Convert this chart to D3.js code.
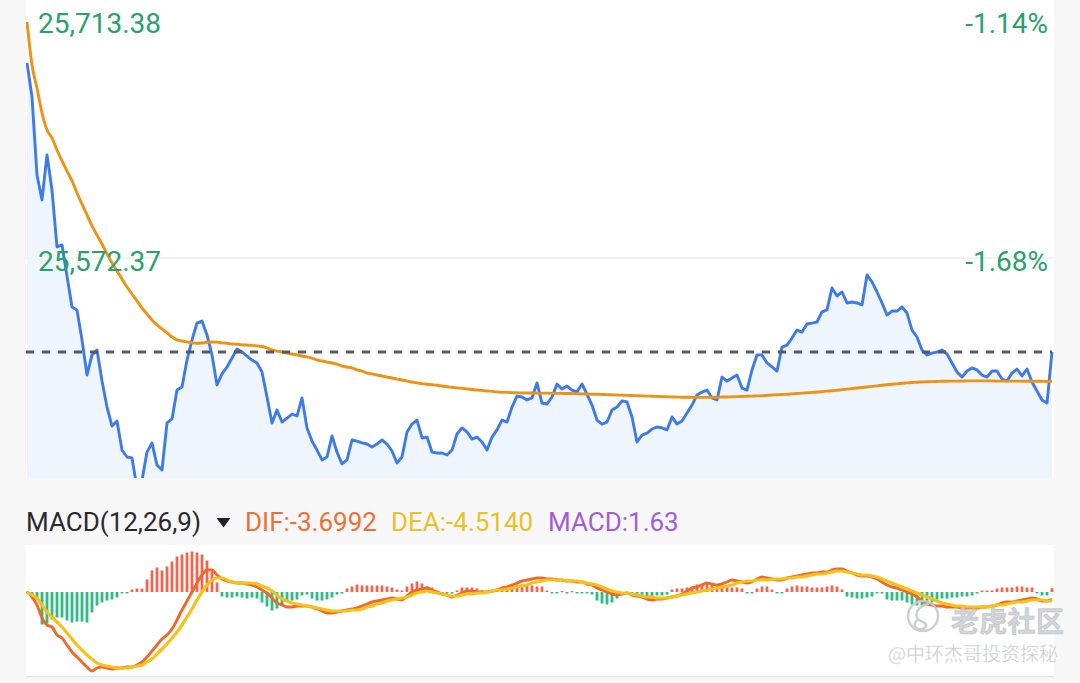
<!DOCTYPE html>
<html><head><meta charset="utf-8">
<script src="https://cdn.jsdelivr.net/npm/d3@7"></script>
<style>html,body{margin:0;padding:0;background:#f7f7f8;overflow:hidden} svg{display:block}</style>
</head><body>
<svg id="c" width="1080" height="683"></svg>
<script>
// ---------------- data ----------------
const price = [
25679.0,25660.4,25617.7,25604.1,25628.7,25609.5,25578.4,25579.5,25562.5,25545.6,
25544.0,25527.6,25508.4,25519.4,25522.1,25505.1,25490.9,25480.5,25483.3,25467.4,
25463.6,25463.1,25446.7,25451.0,25466.3,25471.3,25459.2,25456.5,25482.2,25484.4,
25500.2,25501.9,25516.6,25527.6,25536.8,25537.9,25530.3,25519.4,25503.0,25509.0,
25512.8,25517.7,25522.6,25521.0,25518.8,25516.6,25515.0,25510.1,25496.4,25482.2,
25489.3,25482.7,25484.9,25487.1,25486.0,25495.9,25479.5,25472.3,25467.4,25462.0,
25463.6,25475.1,25466.3,25459.8,25462.0,25472.9,25472.3,25471.3,25470.7,25469.1,
25470.7,25472.9,25470.7,25466.9,25460.3,25463.6,25477.3,25481.6,25483.8,25474.0,
25474.5,25466.3,25465.8,25465.8,25464.7,25467.4,25476.2,25479.5,25477.3,25473.4,
25474.5,25471.8,25467.4,25474.5,25478.4,25483.8,25482.7,25490.9,25496.9,25496.4,
25494.8,25495.9,25504.1,25493.1,25492.6,25496.4,25503.5,25500.8,25502.4,25500.2,
25499.1,25503.5,25498.0,25492.0,25483.8,25481.6,25482.7,25489.3,25490.9,25494.2,
25493.7,25485.5,25471.8,25475.6,25476.7,25478.9,25480.0,25479.5,25478.4,25485.5,
25481.6,25483.3,25487.7,25492.0,25497.5,25499.1,25500.2,25495.9,25494.8,25507.3,
25505.1,25506.8,25508.4,25501.3,25500.2,25511.2,25519.4,25519.4,25515.0,25512.8,
25510.6,25523.7,25524.8,25528.6,25533.0,25531.9,25536.3,25536.8,25537.4,25542.9,
25544.0,25556.0,25551.6,25553.8,25547.8,25548.3,25547.8,25546.7,25563.1,25559.3,
25553.8,25547.8,25541.2,25543.4,25543.4,25545.6,25542.3,25533.0,25529.2,25522.1,
25519.4,25520.4,25521.0,25522.1,25519.9,25515.0,25510.1,25507.3,25510.6,25512.3,
25511.2,25508.4,25507.3,25510.6,25510.6,25506.2,25505.1,25509.5,25511.7,25507.9,
25511.7,25504.6,25499.7,25494.8,25493.1,25521.0];

const avgPrice = [
25701.4,25677.9,25665.3,25651.6,25642.3,25638.0,25631.4,25625.4,25619.9,25614.5,
25607.9,25601.9,25595.9,25589.9,25584.9,25580.0,25574.6,25569.6,25565.3,25560.9,
25556.5,25552.7,25548.9,25545.0,25541.8,25538.5,25535.8,25533.6,25531.4,25529.2,
25527.6,25527.0,25526.5,25526.0,25525.8,25525.9,25526.3,25526.5,25526.4,25526.0,
25525.8,25525.4,25525.2,25524.9,25524.8,25524.6,25524.3,25524.0,25523.2,25522.1,
25521.5,25521.0,25520.4,25519.9,25519.4,25518.8,25518.3,25517.7,25516.6,25516.1,
25515.5,25515.0,25514.4,25513.3,25512.8,25512.3,25511.2,25510.6,25509.5,25509.0,
25508.4,25507.9,25507.3,25506.8,25506.2,25505.7,25505.1,25504.6,25504.1,25503.7,
25503.4,25503.1,25502.8,25502.4,25502.0,25501.7,25501.4,25501.1,25500.8,25500.5,
25500.2,25500.0,25499.7,25499.5,25499.2,25499.0,25498.9,25498.8,25498.7,25498.6,
25498.6,25498.6,25498.5,25498.5,25498.5,25498.4,25498.4,25498.4,25498.3,25498.3,
25498.2,25498.1,25498.0,25497.9,25497.9,25497.8,25497.7,25497.6,25497.5,25497.4,
25497.3,25497.2,25497.1,25497.0,25496.9,25496.8,25496.7,25496.6,25496.5,25496.4,
25496.4,25496.3,25496.3,25496.2,25496.2,25496.2,25496.2,25496.3,25496.3,25496.4,
25496.4,25496.5,25496.6,25496.7,25496.8,25496.9,25497.0,25497.1,25497.3,25497.5,
25497.6,25497.8,25497.9,25498.1,25498.3,25498.5,25498.7,25498.9,25499.1,25499.3,
25499.6,25499.8,25500.1,25500.4,25500.7,25501.0,25501.3,25501.6,25501.9,25502.2,
25502.5,25502.8,25503.1,25503.4,25503.6,25503.9,25504.1,25504.3,25504.5,25504.6,
25504.7,25504.8,25504.9,25505.0,25505.0,25505.1,25505.1,25505.1,25505.2,25505.2,
25505.2,25505.2,25505.2,25505.2,25505.1,25505.1,25505.1,25505.1,25505.1,25505.0,
25505.0,25505.0,25505.0,25505.0,25504.9,25504.9];

const dif = [
0,-2.5,-6.5,-13,-16.5,-17.5,-21.5,-23,-26.5,-30,
-32.5,-35,-37.5,-39.5,-38,-37.5,-38,-38.5,-38,-38,
-37.5,-37.5,-36.5,-35,-32.5,-29.5,-26.5,-23.5,-21.5,-18.5,
-14,-9,-4.5,0,4.5,8.5,11,11,8.5,6.5,
5.5,5,4.5,4.5,4,3.5,2.5,1,-0.5,-3,
-5.5,-6.5,-7.5,-7.5,-7,-7,-7,-7.5,-8.5,-9.5,
-10.5,-10.5,-10,-9.5,-9,-8.5,-8,-7,-6,-5,
-4.5,-4,-3.5,-3,-3.5,-4,-2,0,1,1.5,
2,1,0,-1,-1.5,-2.5,-1.5,-0.5,0.5,0.5,
0,0,0,0.5,1,2,2.5,3.5,4.5,5.5,
6,6.5,7,7,6.5,6.5,6,6,5.5,5.5,
5,5,4,3.5,2,1,0,-1,-1.5,-1,
-0.5,-1.5,-2,-2.5,-3.5,-4,-3.5,-3.5,-3,-2.5,
-2,-1,0.5,2,2.5,3.5,4.5,4,3.5,4,
5,6,5.5,5,4.5,5,6.5,7.5,7,6.5,
6,6,7,7.5,8,8.5,9,9.5,9.5,10,
10,11,11.5,11.5,10.5,9.5,8.5,8,8,7.5,
6.5,5,3.5,2.5,2,1,0,-1,-2.5,-4.5,
-6,-6.5,-7,-7,-7.5,-7.5,-7.5,-8,-8,-8,
-8,-7.5,-7.5,-7,-6.5,-5.5,-5,-5,-4.5,-4,
-3.5,-3,-3.5,-4.5,-4.5,-3.6992];

const dea = [
0,-1.5,-3,-6.5,-10,-12.5,-15,-17.5,-20.5,-23.5,
-26.5,-29,-31.5,-33.5,-35.5,-36.5,-37,-37.5,-38,-38,
-38,-37.5,-37,-36.5,-35,-33.5,-31,-28.5,-26,-23,
-20,-16.5,-12.5,-8.5,-4,0,3.5,6,7,7,
6,5,4.5,4.5,4.5,4.5,4,3,2,0.5,
-1.5,-3.5,-4.5,-5.5,-6,-6.5,-7,-7.5,-8,-8.5,
-9,-9.5,-9.5,-9.5,-9.5,-9,-9,-8.5,-7.5,-7,
-6,-5.5,-4.5,-4,-3.5,-3,-2.5,-1.5,-0.5,0,
0.5,0,-0.5,-1,-1.5,-2,-2,-1.5,-1,-1,
-0.5,-0.5,0,0.5,1,1,1.5,2,2.5,3,
3.5,4.5,5,5.5,6,6,6,6,5.5,5.5,
5.5,5,4.5,4,3.5,2.5,1.5,0.5,0,-0.5,
-0.5,-1,-1.5,-2,-2.5,-2.5,-3,-3,-3,-2.5,
-2,-1.5,-1,-0.5,0,0.5,1,1.5,2,2.5,
3,3.5,4.5,5,5.5,5.5,6,6,6,6.5,
6.5,6.5,7,7,7.5,7.5,8,8.5,9,9,
9.5,10,10.5,10.5,10,9.5,9,8.5,8.5,8,
7.5,6.5,5.5,4.5,3.5,2.5,1.5,0.5,-0.5,-1.5,
-2.5,-3.5,-4.5,-5.5,-6,-6.5,-7,-7,-7.5,-7.5,
-7.5,-7.5,-7.5,-7,-6.5,-6.5,-6,-5.5,-5,-5,
-4.5,-4,-4,-4,-4.5,-4.514];

const macdHist = [
0,-1.5,-3.5,-16,-15.5,-13.5,-12.5,-12.5,-14,-15,
-14.5,-14.5,-15,-10,-6.5,-5,-4,-3.5,-2.5,-0.5,
-0.5,1,1.5,1.5,6,10.5,12,10.5,12.5,15,
17.5,18.5,19.5,20,19.5,18.5,15.5,10,4.5,-2,
-2.5,-2.5,-2,-2.5,-3,-2.5,-3,-5,-7,-9,
-8,-6,-4,-4,-3.5,-1.5,-1,-3,-4,-4,
-3.5,-2.5,-1,-0.5,1.5,2.5,3.5,3,3,3,
3,3,2.5,2,1,0.5,2.5,4,5,4,
2.5,2,0.5,-0.5,-0.5,-0.5,0.5,2,2,2,
1.5,0.5,0.5,0.5,0.5,1,2.5,3,3.5,3.5,
3,3,2.5,2.5,0.5,-0.5,-0.5,0.2,-0.5,0.2,
-0.5,-0.5,-0.5,-1,-4,-5.5,-6,-5,-3,-0.5,
-0.5,-0.5,-1.5,-2,-2,-2,-1.5,-1.5,-1,1,
1.5,1.5,2,2.5,3.5,4,4.5,4,3.5,2,
2,2,2,1.5,-0.5,-0.5,1.5,2.5,2.5,1,
-0.5,-0.5,1.5,2.5,3,2.5,2.5,2,2,2,
2.5,3,2.5,1,-2,-2.5,-3,-3,-2.5,-2,
-0.5,-0.5,-3.5,-4,-4,-4,-5,-6,-6.5,-6.5,
-6,-5,-3.5,-3,-3,-2.5,-2.5,-2,-2,-1.5,
-0.5,0.5,0.5,0.5,1.5,2,2,2,2.5,2.5,
2,2,-0.5,-1.5,-1.5,1.63];

const priceTicks = [25713.38, 25572.37];
const pctTicks = ["-1.14%", "-1.68%"];
const macdTitle = "MACD(12,26,9)";
const macdLegendNames = ["DIF", "DEA", "MACD"];
const macdLegendValues = ["-3.6992", "-4.5140", "1.63"];
const watermark = ["老虎社区", "@中环杰哥投资探秘"];

// ---------------- drawing ----------------
const svg = d3.select("#c");
const L = 26, R = 1054;
const mainTop = 0, mainBot = 478;
const mTop = 545, mBot = 676;
const font = "Roboto, 'Noto Sans', sans-serif";

svg.append("rect").attr("width", 1080).attr("height", 683).attr("fill", "#f7f7f8");
svg.append("rect").attr("x", L).attr("y", mainTop).attr("width", R - L).attr("height", mainBot - mainTop).attr("fill", "#ffffff");
svg.append("rect").attr("x", L).attr("y", mTop).attr("width", R - L).attr("height", mBot - mTop).attr("fill", "#ffffff");
svg.append("line").attr("x1", L).attr("x2", R).attr("y1", mBot + 0.5).attr("y2", mBot + 0.5).attr("stroke", "#e6e6e8").attr("stroke-width", 1.5);

const defs = svg.append("defs");
defs.append("clipPath").attr("id", "clipMain").append("rect").attr("x", L).attr("y", mainTop).attr("width", R - L).attr("height", mainBot - mainTop);
defs.append("clipPath").attr("id", "clipMacd").append("rect").attr("x", L).attr("y", mTop).attr("width", R - L).attr("height", mBot - mTop);

const x = d3.scaleLinear().domain([0, price.length - 1]).range([27, 1052]);
const y = d3.scaleLinear().domain([priceTicks[1], priceTicks[0]]).range([258, 0]);
const ym = d3.scaleLinear().domain([-42, 23.5]).range([mBot, mTop]);

// grid
svg.append("line").attr("x1", L).attr("x2", R).attr("y1", y(priceTicks[1])).attr("y2", y(priceTicks[1]))
  .attr("stroke", "#e4e4e6").attr("stroke-width", 1);

const gMain = svg.append("g").attr("clip-path", "url(#clipMain)");
gMain.append("path").datum(price)
  .attr("d", d3.area().x((d, i) => x(i)).y0(mainBot).y1(d => y(d)))
  .attr("fill", "#eff5fd");
gMain.append("path").datum(price)
  .attr("d", d3.line().x((d, i) => x(i)).y(d => y(d)))
  .attr("fill", "none").attr("stroke", "#3f7be6").attr("stroke-width", 2.9).attr("stroke-linejoin", "round");
gMain.append("path").datum(avgPrice)
  .attr("d", d3.line().curve(d3.curveMonotoneX).x((d, i) => x(i)).y(d => y(d)))
  .attr("fill", "none").attr("stroke", "#ee9217").attr("stroke-width", 2.9);
// last price dashed line
const last = price[price.length - 1];
gMain.append("line").attr("x1", L).attr("x2", 1052).attr("y1", y(last)).attr("y2", y(last))
  .attr("stroke", "#555a66").attr("stroke-width", 2.8).attr("stroke-dasharray", "8,8");

// price labels
const lblOffsets = [33, 13];
priceTicks.forEach((t, k) => {
  svg.append("text").attr("x", 38).attr("y", y(t) + lblOffsets[k])
    .attr("font-family", font).attr("font-size", 28).attr("fill", "#2aa06c")
    .text(d3.format(",.2f")(t));
  svg.append("text").attr("x", 1048).attr("y", y(t) + lblOffsets[k]).attr("text-anchor", "end")
    .attr("font-family", font).attr("font-size", 28).attr("fill", "#2aa06c")
    .text(pctTicks[k]);
});

// MACD header
const hy = 531;
svg.append("text").attr("x", 26).attr("y", hy).attr("font-family", font).attr("font-size", 26).attr("fill", "#2a2a2e").text(macdTitle);
svg.append("path").attr("d", "M216.5,518 L230.5,518 L223.5,527.5 Z").attr("fill", "#222226");
const legColors = ["#ea7035", "#e9c129", "#a35dd4"];
const legX = [245, 391, 548];
macdLegendNames.forEach((n, k) => {
  svg.append("text").attr("x", legX[k]).attr("y", hy).attr("font-family", font).attr("font-size", 26)
    .attr("fill", legColors[k]).text(n + ":" + macdLegendValues[k]);
});

// MACD panel
const gM = svg.append("g").attr("clip-path", "url(#clipMacd)");
const bw = 2.8;
gM.selectAll("rect.bar").data(macdHist).join("rect").attr("class", "bar")
  .attr("x", (d, i) => x(i) - bw / 2)
  .attr("width", bw)
  .attr("y", d => d >= 0 ? ym(d) - 0.5 : ym(0))
  .attr("height", d => Math.max(1.2, Math.abs(ym(d) - ym(0)) + 0.5))
  .attr("fill", d => d >= 0 ? "#ec6752" : "#2fbb83");
gM.append("path").datum(dif)
  .attr("d", d3.line().curve(d3.curveMonotoneX).x((d, i) => x(i)).y(d => ym(d)))
  .attr("fill", "none").attr("stroke", "#ee6a2b").attr("stroke-width", 2.9).attr("stroke-linejoin", "round");
gM.append("path").datum(dea)
  .attr("d", d3.line().curve(d3.curveMonotoneX).x((d, i) => x(i)).y(d => ym(d)))
  .attr("fill", "none").attr("stroke", "#f5c21a").attr("stroke-width", 3.2).attr("stroke-linejoin", "round");

// watermark
const wm = svg.append("g").attr("opacity", 0.9);
wm.append("circle").attr("cx", 923).attr("cy", 616).attr("r", 15).attr("fill", "none")
  .attr("stroke", "#c6c9cf").attr("stroke-width", 2.4);
wm.append("path").attr("d", "M928,604 C918,606 914,614 918,619 C921,623 927,621 926,626 C925,630 918,630 914,627 M918,619 C915,622 913,625 916,628")
  .attr("fill", "none").attr("stroke", "#c6c9cf").attr("stroke-width", 2.4).attr("stroke-linecap", "round");
wm.append("text").attr("x", 951).attr("y", 632).attr("font-family", "'Noto Sans CJK SC', sans-serif")
  .attr("font-size", 28).attr("font-weight", 700).attr("fill", "#cdd0d5").attr("stroke", "#b9bcc3").attr("stroke-width", 0.6)
  .attr("letter-spacing", 0.3).text(watermark[0]);
wm.append("text").attr("x", 1058).attr("y", 661).attr("text-anchor", "end").attr("font-family", "'Noto Sans CJK SC', sans-serif")
  .attr("font-size", 19).attr("fill", "#c4c6ca").attr("stroke", "#ffffff").attr("stroke-width", 0.3).text(watermark[1]);
</script>
</body></html>
